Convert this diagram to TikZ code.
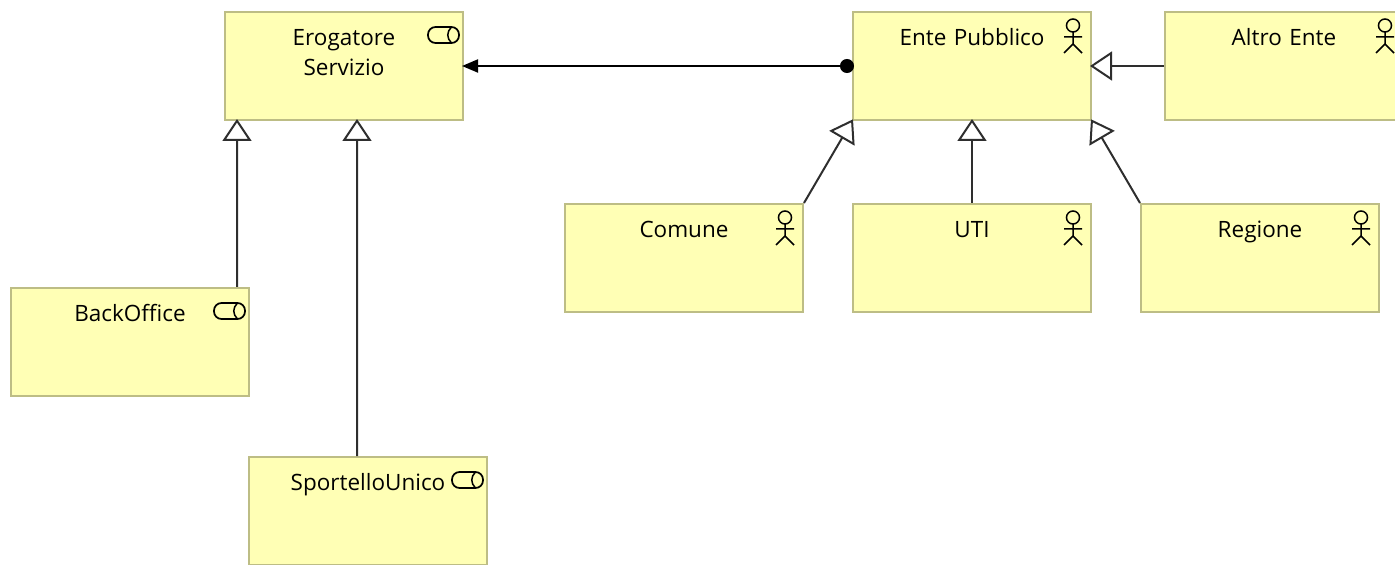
\documentclass[tikz,border=0pt]{standalone}
\usepackage{fontspec}
\setmainfont{Open Sans}
\usepackage{tikz}
\usetikzlibrary{arrows.meta}
\definecolor{boxfill}{HTML}{FFFFB5}
\definecolor{boxline}{HTML}{BDBD85}
\definecolor{arrowline}{HTML}{2E2E2E}
\tikzset{
entity/.style={rectangle,draw=boxline,fill=boxfill,line width=.04cm,inner sep=0pt,
minimum width=4.76cm,minimum height=2.16cm,text width=4.76cm,align=center,
font=\fontsize{12.8}{17}\selectfont,text height=.67cm,text depth=1.49cm},
actoricon/.pic={
\draw[black,line width=.03cm] (0,0) circle (.13);
\draw[black,line width=.03cm] (0,-.13) -- (0,-.37) (-.18,-.23) -- (.18,-.23) (-.18,-.55) -- (0,-.37) -- (.18,-.55);
},
serviceicon/.pic={
\draw[black,line width=.035cm,rounded corners=.15cm] (0,0) rectangle (.62,.32);
\draw[black,line width=.03cm] (.47,.32) .. controls (.37,.22) and (.37,.10) .. (.47,0);
}
}
\begin{document}
\begin{tikzpicture}
\useasboundingbox (0,0) rectangle (27.9,11.28);
\begin{scope}[every node/.style={entity}]
\node (Erogatore) at (6.88,9.96) {Erogatore\\Servizio};
\node (Ente) at (19.44,9.96) {Ente Pubblico};
\node (Altro) at (25.68,9.96) {Altro Ente};
\node (Comune) at (13.68,6.12) {Comune};
\node (UTI) at (19.44,6.12) {UTI};
\node (Regione) at (25.2,6.12) {Regione};
\node (BackOffice) at (2.6,4.44) {BackOffice};
\node (Sportello) at (7.36,1.06) {SportelloUnico};
\end{scope}

\pic at ([xshift=-.38cm,yshift=-.29cm]Ente.north east) {actoricon};
\pic at ([xshift=-.38cm,yshift=-.29cm]Altro.north east) {actoricon};
\pic at ([xshift=-.38cm,yshift=-.29cm]Comune.north east) {actoricon};
\pic at ([xshift=-.38cm,yshift=-.29cm]UTI.north east) {actoricon};
\pic at ([xshift=-.38cm,yshift=-.29cm]Regione.north east) {actoricon};
\pic at ([xshift=-.72cm,yshift=-.64cm]Erogatore.north east) {serviceicon};
\pic at ([xshift=-.72cm,yshift=-.64cm]BackOffice.north east) {serviceicon};
\pic at ([xshift=-.72cm,yshift=-.64cm]Sportello.north east) {serviceicon};

\begin{scope}[>={Triangle[open,fill=white,length=.44cm,width=.58cm]},
every edge/.style={draw=arrowline,line width=.04cm,shorten >=-.04cm}]
\path [->] ([xshift=2.14cm]BackOffice.north) edge ([xshift=-2.14cm]Erogatore.south);
\path [->] ([xshift=-.22cm]Sportello.north) edge ([xshift=.26cm]Erogatore.south);
\path [->] (Comune.north east) edge (Ente.south west);
\path [->] (UTI.north) edge (Ente.south);
\path [->] (Regione.north west) edge (Ente.south east);
\path [->] (Altro.west) edge (Ente.east);
\end{scope}

\begin{scope}[every edge/.style={draw=black,line width=.04cm,shorten >=-.04cm,shorten <=-.04cm}]
\path [{Circle[length=.28cm]}-{Triangle[length=.32cm,width=.26cm]}] (Ente.west) edge (Erogatore.east);
\end{scope}
\end{tikzpicture}
\end{document}
